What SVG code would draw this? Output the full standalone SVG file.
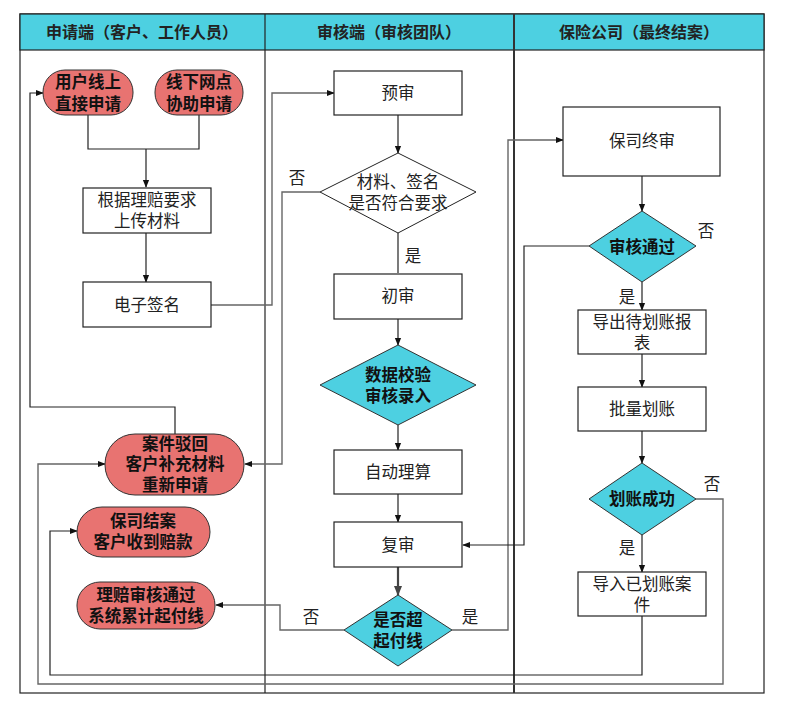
<svg xmlns="http://www.w3.org/2000/svg" width="787" height="706" viewBox="0 0 787 706">
<style>
text{font-family:"Liberation Sans","Noto Sans CJK SC",sans-serif;font-size:16.5px;fill:#222;text-anchor:middle;dominant-baseline:central}
.b{font-weight:bold;fill:#111}
.h{font-weight:bold;font-size:16px}
.box{fill:#fff;stroke:#222;stroke-width:1.2}
.pill{fill:#E87371;stroke:#333;stroke-width:1}
.dia{fill:#4DD0E1;stroke:#333;stroke-width:1}
.dw{fill:#fff;stroke:#222;stroke-width:1}
.c{fill:none;stroke:#222;stroke-width:1.2}
.g{fill:none;stroke:#666;stroke-width:1.4}
</style>
<defs>
<marker id="a" viewBox="0 0 10 10" refX="9" refY="5" markerWidth="8" markerHeight="8" markerUnits="userSpaceOnUse" orient="auto"><path d="M0,1 L10,5 L0,9 Z" fill="#111"/></marker>
<marker id="ag" viewBox="0 0 10 10" refX="9" refY="5" markerWidth="10" markerHeight="10" markerUnits="userSpaceOnUse" orient="auto"><path d="M0,1 L10,5 L0,9 Z" fill="#444"/></marker>
</defs>
<rect width="787" height="706" fill="#fff"/>
<g id="lanes">
<rect x="20" y="14" width="744" height="679" fill="#fff" stroke="#222" stroke-width="1.2"/>
<rect x="20" y="14" width="744" height="36" fill="#4DD0E1" stroke="#222" stroke-width="1.2"/>
<line x1="265" y1="14" x2="265" y2="693" stroke="#222" stroke-width="1.2"/>
<line x1="514" y1="14" x2="514" y2="693" stroke="#333" stroke-width="2"/>
<text class="h" x="142" y="32">申请端（客户、工作人员）</text>
<text class="h" x="389" y="32">审核端（审核团队）</text>
<text class="h" x="639" y="32">保险公司（最终结案）</text>
</g>
<g id="connectors">
<polyline class="c" points="88,115 88,149 199,149 199,115"/>
<polyline class="c" points="146,149 146,187" marker-end="url(#a)"/>
<polyline class="c" points="146,233 146,282" marker-end="url(#a)"/>
<polyline class="g" points="211,305 272,305 272,93 334,93" marker-end="url(#a)"/>
<polyline class="c" points="175,434 175,407 30,407 30,93 43,93" marker-end="url(#a)"/>
<polyline class="g" points="320,192 282,192 282,464 245,464" marker-end="url(#a)"/>
<polyline class="c" points="398,115 398,153" marker-end="url(#a)"/>
<polyline class="c" points="398,233 398,273"/>
<polyline class="c" points="398,319 398,345" marker-end="url(#a)"/>
<polyline class="c" points="398,425 398,450" marker-end="url(#a)"/>
<polyline class="c" points="398,494 398,522" marker-end="url(#a)"/>
<polyline fill="none" stroke="#444" stroke-width="2.2" points="398,567 398,595" marker-end="url(#ag)"/>
<polyline class="g" points="344,630 280,630 280,605 216,605" marker-end="url(#a)"/>
<polyline class="g" points="452,630 508,630 508,140 563,140" marker-end="url(#a)"/>
<polyline class="c" points="589,246 524,246 524,545 463,545" marker-end="url(#a)"/>
<polyline class="c" points="642,176 642,211" marker-end="url(#a)"/>
<polyline class="c" points="642,282 642,310" marker-end="url(#a)"/>
<polyline class="c" points="642,354 642,387" marker-end="url(#a)"/>
<polyline class="c" points="642,431 642,463" marker-end="url(#a)"/>
<polyline class="c" points="642,535 642,572" marker-end="url(#a)"/>
<polyline class="c" points="642,616 642,675 50,675 50,531 77,531" marker-end="url(#a)"/>
<polyline class="g" points="696,499 723,499 723,684 38,684 38,464 105,464" marker-end="url(#a)"/>
<text x="297" y="178">否</text>
<text x="413" y="256">是</text>
<text x="311" y="617">否</text>
<text x="470" y="617">是</text>
<text x="706" y="231">否</text>
<text x="627" y="297">是</text>
<text x="712" y="484">否</text>
<text x="627" y="548">是</text>
</g>
<g id="n1"><rect class="pill" x="43" y="70" width="90" height="45" rx="22"/><text class="b" x="88" y="82">用户线上</text><text class="b" x="88" y="104">直接申请</text></g>
<g id="n2"><rect class="pill" x="155" y="70" width="88" height="45" rx="22"/><text class="b" x="199" y="82">线下网点</text><text class="b" x="199" y="104">协助申请</text></g>
<g id="n3"><rect class="box" x="83" y="188" width="128" height="45"/><text x="147" y="200">根据理赔要求</text><text x="147" y="221">上传材料</text></g>
<g id="n4"><rect class="box" x="83" y="282" width="128" height="45"/><text x="147" y="305">电子签名</text></g>
<g id="n5"><rect class="pill" x="105" y="434" width="139" height="61" rx="30"/><text class="b" x="175" y="444">案件驳回</text><text class="b" x="175" y="464">客户补充材料</text><text class="b" x="175" y="485">重新申请</text></g>
<g id="n6"><rect class="pill" x="77" y="507" width="133" height="50" rx="25"/><text class="b" x="143" y="521">保司结案</text><text class="b" x="143" y="542">客户收到赔款</text></g>
<g id="n7"><rect class="pill" x="77" y="582" width="138" height="47" rx="23"/><text class="b" x="146" y="595">理赔审核通过</text><text class="b" x="146" y="616">系统累计起付线</text></g>
<g id="n8"><rect class="box" x="334" y="71" width="128" height="44"/><text x="398" y="93">预审</text></g>
<g id="n9"><polygon class="dw" points="398,153 476,192 398,233 320,192"/><text x="398" y="182">材料、签名</text><text x="398" y="203">是否符合要求</text></g>
<g id="n10"><rect class="box" x="334" y="274" width="128" height="45"/><text x="398" y="296">初审</text></g>
<g id="n11"><polygon class="dia" points="398,345 476,385 398,425 320,385"/><text class="b" x="398" y="375">数据校验</text><text class="b" x="398" y="396">审核录入</text></g>
<g id="n12"><rect class="box" x="334" y="450" width="128" height="44"/><text x="398" y="472">自动理算</text></g>
<g id="n13"><rect class="box" x="334" y="522" width="128" height="45"/><text x="398" y="545">复审</text></g>
<g id="n14"><polygon class="dia" points="398,595 452,630 398,666 344,630"/><text class="b" x="398" y="620">是否超</text><text class="b" x="398" y="641">起付线</text></g>
<g id="n15"><rect class="box" x="563" y="107" width="157" height="69"/><text x="642" y="141">保司终审</text></g>
<g id="n16"><polygon class="dia" points="642,211 696,246 642,282 589,246"/><text class="b" x="642" y="247">审核通过</text></g>
<g id="n17"><rect class="box" x="578" y="310" width="128" height="44"/><text x="642" y="322">导出待划账报</text><text x="642" y="343">表</text></g>
<g id="n18"><rect class="box" x="578" y="387" width="128" height="44"/><text x="642" y="409">批量划账</text></g>
<g id="n19"><polygon class="dia" points="642,463 696,499 642,535 589,499"/><text class="b" x="642" y="499">划账成功</text></g>
<g id="n20"><rect class="box" x="578" y="572" width="128" height="44"/><text x="642" y="584">导入已划账案</text><text x="642" y="605">件</text></g>
</svg>
